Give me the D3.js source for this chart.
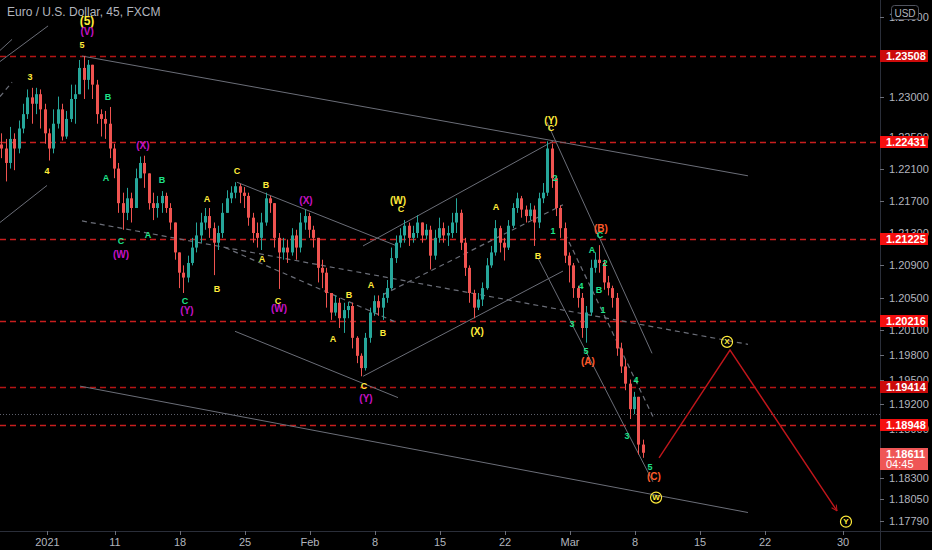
<!DOCTYPE html>
<html>
<head>
<meta charset="utf-8">
<title>Euro / U.S. Dollar, 45, FXCM</title>
<script src="https://cdn.jsdelivr.net/npm/d3@7"></script>
<style>
	body {
		margin: 0;
		background: #000;
	}
	svg {
		display: block;
		font-family: "Liberation Sans", Arial, sans-serif;
	}
	.axis_label {
		fill: #b2b5be;
		font-size: 11px;
	}
	.wave {
		font-size: 9px;
		font-weight: bold;
		text-anchor: middle;
		dominant-baseline: central;
	}
	.level_label {
		fill: white;
		font-size: 11px;
		font-weight: bold;
		dominant-baseline: central;
	}
</style>
</head>
<body>
<svg id="chart"></svg>
<script>

	// 45 minute candles, grouped three per trading day (day 0 = Mon 4 Jan 2021)
	var firstBarDay = -3.75,
		firstOpen = 1.2240;

	var closes = [1.2235, 1.2217, 1.2247, 1.2235, 1.2260, 1.2278, 1.2299, 1.2291, 1.2303, 1.2284,
		1.2254, 1.2235, 1.2266, 1.2284, 1.2250, 1.2272, 1.2297, 1.2303, 1.2336, 1.2321,
		1.2340, 1.2315, 1.2278, 1.2272, 1.2266, 1.2235, 1.2210, 1.2167, 1.2155, 1.2173,
		1.2161, 1.2198, 1.2217, 1.2204, 1.2167, 1.2161, 1.2167, 1.2176, 1.2161, 1.2143,
		1.2106, 1.2081, 1.2075, 1.2093, 1.2112, 1.2127, 1.2143, 1.2151, 1.2136, 1.2118,
		1.2130, 1.2155, 1.2173, 1.2180, 1.2188, 1.2180, 1.2176, 1.2149, 1.2130, 1.2124,
		1.2143, 1.2173, 1.2167, 1.2124, 1.2106, 1.2112, 1.2106, 1.2127, 1.2112, 1.2143,
		1.2151, 1.2134, 1.2124, 1.2087, 1.2081, 1.2056, 1.2032, 1.2044, 1.2025, 1.2035,
		1.2040, 1.2001, 1.1979, 1.1964, 1.2001, 1.2032, 1.2046, 1.2038, 1.2050, 1.2062,
		1.2099, 1.2118, 1.2127, 1.2139, 1.2124, 1.2130, 1.2143, 1.2127, 1.2134, 1.2102,
		1.2124, 1.2136, 1.2127, 1.2130, 1.2143, 1.2155, 1.2118, 1.2087, 1.2056, 1.2038,
		1.2048, 1.2062, 1.2090, 1.2106, 1.2136, 1.2118, 1.2112, 1.2139, 1.2161, 1.2173,
		1.2159, 1.2151, 1.2159, 1.2143, 1.2173, 1.2180, 1.2235, 1.2198, 1.2161, 1.2136,
		1.2102, 1.2090, 1.2062, 1.2050, 1.2013, 1.2032, 1.2087, 1.2097, 1.2093, 1.2069,
		1.2062, 1.2050, 1.1988, 1.1966, 1.1945, 1.1914, 1.1929, 1.1871, 1.18611];

	var highs = [1.2254, 1.2247, 1.2262, 1.2254, 1.2270, 1.2291, 1.2309, 1.2311, 1.2311, 1.2309,
		1.2291, 1.2260, 1.2284, 1.2300, 1.2291, 1.2282, 1.2315, 1.2315, 1.2346, 1.2351,
		1.2346, 1.2340, 1.2321, 1.2284, 1.2282, 1.2287, 1.2241, 1.2217, 1.2180, 1.2186,
		1.2180, 1.2210, 1.2225, 1.2226, 1.2204, 1.2180, 1.2176, 1.2182, 1.2180, 1.2167,
		1.2143, 1.2106, 1.2090, 1.2102, 1.2124, 1.2143, 1.2155, 1.2161, 1.2161, 1.2143,
		1.2139, 1.2167, 1.2183, 1.2188, 1.2193, 1.2191, 1.2187, 1.2180, 1.2155, 1.2143,
		1.2155, 1.2180, 1.2176, 1.2167, 1.2130, 1.2124, 1.2122, 1.2136, 1.2134, 1.2155,
		1.2159, 1.2155, 1.2139, 1.2124, 1.2097, 1.2087, 1.2056, 1.2053, 1.2050, 1.2044,
		1.2045, 1.2044, 1.2003, 1.1982, 1.2007, 1.2038, 1.2053, 1.2053, 1.2056, 1.2072,
		1.2112, 1.2127, 1.2136, 1.2146, 1.2143, 1.2139, 1.2152, 1.2143, 1.2141, 1.2139,
		1.2134, 1.2149, 1.2143, 1.2139, 1.2155, 1.2173, 1.2159, 1.2124, 1.2090, 1.2060,
		1.2056, 1.2069, 1.2099, 1.2114, 1.2146, 1.2139, 1.2124, 1.2146, 1.2167, 1.2180,
		1.2176, 1.2164, 1.2167, 1.2164, 1.2180, 1.2192, 1.2244, 1.2241, 1.2201, 1.2164,
		1.2143, 1.2106, 1.2093, 1.2065, 1.2056, 1.2040, 1.2097, 1.2106, 1.2115, 1.2097,
		1.2077, 1.2065, 1.2056, 1.1995, 1.1974, 1.1950, 1.1935, 1.1929, 1.1877];

	var lows = [1.2223, 1.2194, 1.2210, 1.2208, 1.2229, 1.2254, 1.2272, 1.2266, 1.2278, 1.2260,
		1.2241, 1.2220, 1.2229, 1.2260, 1.2245, 1.2247, 1.2268, 1.2266, 1.2303, 1.2297,
		1.2309, 1.2297, 1.2266, 1.2250, 1.2247, 1.2223, 1.2198, 1.2155, 1.2134, 1.2146,
		1.2143, 1.2161, 1.2198, 1.2186, 1.2159, 1.2146, 1.2149, 1.2155, 1.2155, 1.2134,
		1.2097, 1.2062, 1.2056, 1.2069, 1.2090, 1.2106, 1.2118, 1.2134, 1.2124, 1.2078,
		1.2109, 1.2124, 1.2155, 1.2167, 1.2173, 1.2167, 1.2161, 1.2139, 1.2118, 1.2112,
		1.2109, 1.2139, 1.2155, 1.2112, 1.2061, 1.2097, 1.2093, 1.2102, 1.2097, 1.2106,
		1.2134, 1.2124, 1.2112, 1.2069, 1.2062, 1.2038, 1.2023, 1.2028, 1.2013, 1.2007,
		1.2025, 1.1988, 1.1970, 1.1954, 1.1961, 1.1995, 1.2028, 1.2028, 1.2023, 1.2044,
		1.2060, 1.2093, 1.2112, 1.2118, 1.2114, 1.2118, 1.2124, 1.2118, 1.2122, 1.2085,
		1.2097, 1.2118, 1.2118, 1.2114, 1.2124, 1.2130, 1.2109, 1.2077, 1.2044, 1.2025,
		1.2035, 1.2040, 1.2060, 1.2087, 1.2102, 1.2106, 1.2096, 1.2109, 1.2136, 1.2155,
		1.2149, 1.2143, 1.2146, 1.2114, 1.2136, 1.2167, 1.2176, 1.2186, 1.2151, 1.2124,
		1.2093, 1.2069, 1.2050, 1.2038, 1.2001, 1.1995, 1.2028, 1.2081, 1.2081, 1.2060,
		1.2053, 1.2038, 1.1979, 1.1958, 1.1937, 1.1902, 1.1908, 1.1859, 1.1855];

	var lastPrice = 1.18611,
		countdown = "04:45";

	// horizontal levels drawn on the chart
	var levels = [1.23508, 1.22431, 1.21225, 1.20216, 1.19414, 1.18948];
	var levelStrong = [true, false, false, false, true, false];
	var prevClose = 1.1908;

	var priceTicks = [1.24, 1.23, 1.225, 1.221, 1.217, 1.213, 1.209, 1.205, 1.201, 1.198,
		1.195, 1.192, 1.189, 1.183, 1.1805, 1.1779];
	var dayTicks = [-0.2, 5, 10, 15, 20, 25, 30, 35, 40, 45, 50, 55, 61];
	var dayLabels = ["2021", "11", "18", "25", "Feb", "8", "15", "22", "Mar", "8", "15", "22", "30"];

	// trend lines: [day1, price1, day2, price2]
	var solidLines = [
		[2.46, 1.2351, 53.69, 1.2201],
		[2.31, 1.1942, 53.69, 1.1789],
		[14.38, 1.2193, 26.54, 1.2115],
		[24.08, 1.2114, 38.69, 1.2244],
		[24.08, 1.1954, 39.46, 1.2083],
		[38.23, 1.2268, 46.31, 1.1982],
		[37.54, 1.2099, 46.38, 1.1826],
		[14.23, 1.2009, 26.77, 1.1928],
		[-3.85, 1.2344, -0.15, 1.2389],
		[-3.85, 1.2358, -2.92, 1.2372],
		[-3.85, 1.2143, -0.23, 1.2189]
	];
	var dashedLines = [
		[2.46, 1.2145, 53.69, 1.1993],
		[13.46, 1.2112, 26.77, 1.2019],
		[25.62, 1.2054, 39.46, 1.2165],
		[39.62, 1.2129, 46.38, 1.1905],
		[-3.85, 1.2300, -2.92, 1.2318]
	];

	// projected path (W) -> (X) -> (Y)
	var projection = [[46.85, 1.1855], [52.31, 1.1986], [60.54, 1.1791]];
	var circled = [[52.08, 1.1996, "X"], [46.62, 1.1807, "W"], [61.23, 1.1778, "Y"]];

	// wave labels: [day, price, text, degree]
	var waveLabels = [
		[2.85, 1.2395, "(5)", "cycle"],
		[2.85, 1.2382, "(V)", "minor"],
		[2.46, 1.2365, "5", "minute"],
		[-1.54, 1.2325, "3", "minute"],
		[-0.23, 1.2207, "4", "minute"],
		[4.46, 1.2300, "B", "minuette"],
		[4.31, 1.2198, "A", "minuette"],
		[5.46, 1.2120, "C", "minuette"],
		[5.46, 1.2104, "(W)", "minor"],
		[7.15, 1.2239, "(X)", "minor"],
		[7.54, 1.2127, "A", "minuette"],
		[8.62, 1.2196, "B", "minuette"],
		[10.38, 1.2046, "C", "minuette"],
		[10.54, 1.2034, "(Y)", "minor"],
		[12.08, 1.2172, "A", "minute"],
		[12.85, 1.2061, "B", "minute"],
		[14.38, 1.2207, "C", "minute"],
		[16.31, 1.2098, "A", "minute"],
		[16.62, 1.2189, "B", "minute"],
		[17.54, 1.2046, "C", "minute"],
		[17.62, 1.2037, "(W)", "minor"],
		[19.69, 1.2170, "(X)", "minor"],
		[21.77, 1.2000, "A", "minute"],
		[23.0, 1.2054, "B", "minute"],
		[24.15, 1.1942, "C", "minute"],
		[24.31, 1.1927, "(Y)", "minor"],
		[24.69, 1.2066, "A", "minute"],
		[25.62, 1.2007, "B", "minute"],
		[26.77, 1.2170, "(W)", "minute"],
		[27.0, 1.2160, "C", "minute"],
		[32.85, 1.2009, "(X)", "minute"],
		[34.31, 1.2162, "A", "minute"],
		[37.54, 1.2101, "B", "minute"],
		[38.54, 1.2270, "(Y)", "minute"],
		[38.54, 1.2261, "C", "minute"],
		[38.85, 1.2198, "2", "minuette"],
		[38.69, 1.2133, "1", "minuette"],
		[40.15, 1.2018, "3", "minuette"],
		[40.85, 1.2064, "4", "minuette"],
		[41.23, 1.1985, "5", "minuette"],
		[41.38, 1.1972, "(A)", "intermediate"],
		[41.69, 1.2109, "A", "minuette"],
		[42.31, 1.2128, "C", "minuette"],
		[42.38, 1.2136, "(B)", "intermediate"],
		[42.69, 1.2093, "2", "minuette"],
		[42.23, 1.2060, "B", "minuette"],
		[42.54, 1.2035, "1", "minuette"],
		[45.08, 1.1949, "4", "minuette"],
		[44.38, 1.1881, "3", "minuette"],
		[46.15, 1.1844, "5", "minuette"],
		[46.46, 1.1832, "(C)", "intermediate"]
	];

	var degreeColor = {
		cycle: "#ffeb3b",
		minute: "#ffeb3b",
		minuette: "#1de38a",
		minor: "#c512c5",
		intermediate: "#ff5a2a"
	};

	var width = 932, height = 550,
		plotRight = 880, plotBottom = 531;

	var x = d3.scaleLinear().domain([0, 61]).range([50, 843]);
	var y = d3.scaleLog().domain([1.17668, 1.24218]).range([plotBottom, 0]);

	var bars = closes.map(function(c, i) {
		return {
			day: firstBarDay + i / 3,
			open: i == 0 ? firstOpen : closes[i - 1],
			close: c,
			high: highs[i],
			low: lows[i]
		};
	});

	var svg = d3.select("svg#chart")
		.attr("width", width)
		.attr("height", height);

	svg.append("rect")
		.attr("width", width)
		.attr("height", height)
		.attr("fill", "#000");

	svg.append("clipPath").attr("id", "plotclip")
		.append("rect")
			.attr("width", plotRight)
			.attr("height", plotBottom);

	var plot = svg.append("g").attr("clip-path", "url(#plotclip)");

	// levels
	plot.selectAll("line.level")
		.data(levels).enter().append("line")
			.attr("x1", 0)
			.attr("x2", plotRight)
			.attr("y1", d => Math.round(y(d)) + 0.5)
			.attr("y2", d => Math.round(y(d)) + 0.5)
			.attr("stroke", (d, i) => levelStrong[i] ? "#b51414" : "#c81e1e")
			.attr("stroke-width", 1.5)
			.attr("stroke-dasharray", "6,4");

	plot.append("line")
		.attr("x1", 0).attr("x2", plotRight)
		.attr("y1", Math.round(y(prevClose)) + 0.5)
		.attr("y2", Math.round(y(prevClose)) + 0.5)
		.attr("stroke", "#5d606b")
		.attr("stroke-dasharray", "1,2");

	// trend lines
	plot.selectAll("line.trend")
		.data(solidLines).enter().append("line")
			.attr("x1", d => x(d[0])).attr("y1", d => y(d[1]))
			.attr("x2", d => x(d[2])).attr("y2", d => y(d[3]))
			.attr("stroke", "#6b6e78")
			.attr("stroke-width", 1);

	plot.selectAll("line.dashtrend")
		.data(dashedLines).enter().append("line")
			.attr("x1", d => x(d[0])).attr("y1", d => y(d[1]))
			.attr("x2", d => x(d[2])).attr("y2", d => y(d[3]))
			.attr("stroke", "#6b6e78")
			.attr("stroke-width", 1.2)
			.attr("stroke-dasharray", "5,4");

	// candles
	var candle = plot.selectAll("g.candle")
		.data(bars).enter().append("g");

	candle.append("line")
		.attr("x1", d => Math.round(x(d.day)) + 0.5)
		.attr("x2", d => Math.round(x(d.day)) + 0.5)
		.attr("y1", d => y(d.high))
		.attr("y2", d => y(d.low))
		.attr("stroke", d => d.close >= d.open ? "#26a69a" : "#ef5350");

	candle.append("rect")
		.attr("x", d => Math.round(x(d.day)) - 1)
		.attr("width", 3)
		.attr("y", d => y(Math.max(d.open, d.close)))
		.attr("height", d => Math.max(1, Math.abs(y(d.open) - y(d.close))))
		.attr("fill", d => d.close >= d.open ? "#26a69a" : "#ef5350");

	// projection arrow
	svg.append("defs").append("marker")
		.attr("id", "arrow")
		.attr("viewBox", "0 0 10 10")
		.attr("refX", 9).attr("refY", 5)
		.attr("markerWidth", 7).attr("markerHeight", 7)
		.attr("markerUnits", "userSpaceOnUse")
		.attr("orient", "auto")
		.append("path")
			.attr("d", "M1,1 L9,5 L1,9")
			.attr("fill", "none")
			.attr("stroke", "#c0161b")
			.attr("stroke-width", 1.4);

	plot.append("path")
		.datum(projection)
		.attr("d", d3.line().x(d => x(d[0])).y(d => y(d[1])))
		.attr("fill", "none")
		.attr("stroke", "#c0161b")
		.attr("stroke-width", 1.4)
		.attr("marker-end", "url(#arrow)");

	// circled labels
	var circ = plot.selectAll("g.circ")
		.data(circled).enter().append("g")
			.attr("transform", d => "translate(" + x(d[0]) + "," + y(d[1]) + ")");
	circ.append("circle")
		.attr("r", 5.5)
		.attr("fill", "none")
		.attr("stroke", "#ffeb3b")
		.attr("stroke-width", 1.2);
	circ.append("text")
		.attr("class", "wave")
		.attr("fill", "#ffeb3b")
		.style("font-size", "8px")
		.text(d => d[2]);

	// wave labels
	plot.selectAll("text.wavelabel")
		.data(waveLabels).enter().append("text")
			.attr("class", "wave")
			.attr("x", d => x(d[0]))
			.attr("y", d => y(d[1]))
			.attr("fill", d => degreeColor[d[3]])
			.style("font-size", d => d[3] == "cycle" ? "12px" : (d[2].length > 1 ? "10px" : "9px"))
			.text(d => d[2]);

	// title
	svg.append("text")
		.attr("x", 7).attr("y", 16)
		.attr("fill", "#b2b5be")
		.style("font-size", "12px")
		.text("Euro / U.S. Dollar, 45, FXCM");

	// axes frame
	svg.append("line")
		.attr("x1", plotRight + 0.5).attr("x2", plotRight + 0.5)
		.attr("y1", 0).attr("y2", height)
		.attr("stroke", "#2a2e39");
	svg.append("line")
		.attr("x1", 0).attr("x2", width)
		.attr("y1", plotBottom + 0.5).attr("y2", plotBottom + 0.5)
		.attr("stroke", "#2a2e39");

	// price axis
	var yAxis = svg.append("g");
	yAxis.selectAll("line")
		.data(priceTicks).enter().append("line")
			.attr("x1", plotRight).attr("x2", plotRight + 4)
			.attr("y1", d => Math.round(y(d)) + 0.5)
			.attr("y2", d => Math.round(y(d)) + 0.5)
			.attr("stroke", "#6b6e78");
	yAxis.selectAll("text")
		.data(priceTicks).enter().append("text")
			.attr("class", "axis_label")
			.attr("x", plotRight + 9)
			.attr("y", d => y(d))
			.attr("dominant-baseline", "central")
			.text(d => d3.format(".5f")(d));

	// time axis
	var xAxis = svg.append("g");
	xAxis.selectAll("line")
		.data(dayTicks).enter().append("line")
			.attr("x1", d => Math.round(x(d)) + 0.5)
			.attr("x2", d => Math.round(x(d)) + 0.5)
			.attr("y1", plotBottom).attr("y2", plotBottom + 4)
			.attr("stroke", "#6b6e78");
	xAxis.selectAll("text")
		.data(dayTicks).enter().append("text")
			.attr("class", "axis_label")
			.attr("x", d => x(d))
			.attr("y", plotBottom + 11)
			.attr("text-anchor", "middle")
			.attr("dominant-baseline", "central")
			.text((d, i) => dayLabels[i]);

	// level price boxes
	var boxes = svg.selectAll("g.levelbox")
		.data(levels).enter().append("g")
			.attr("transform", d => "translate(" + plotRight + "," + Math.round(y(d)) + ")");
	boxes.append("rect")
		.attr("y", -6).attr("width", 48).attr("height", 12)
		.attr("fill", (d, i) => levelStrong[i] ? "#cc0a0a" : "#f50f0f");
	boxes.append("text")
		.attr("class", "level_label")
		.attr("x", 6)
		.text(d => d3.format(".5f")(d));

	// last price box
	var last = svg.append("g")
		.attr("transform", "translate(" + plotRight + "," + Math.round(y(lastPrice)) + ")");
	last.append("rect")
		.attr("y", -5).attr("width", 48).attr("height", 22)
		.attr("fill", "#ef5656");
	last.append("text")
		.attr("class", "level_label")
		.attr("x", 6).attr("y", 1)
		.text(d3.format(".5f")(lastPrice));
	last.append("text")
		.attr("class", "level_label")
		.style("font-weight", "normal")
		.attr("x", 6).attr("y", 11)
		.text(countdown);

	// currency badge
	svg.append("rect")
		.attr("x", 891.5).attr("y", 5.5)
		.attr("width", 27).attr("height", 14)
		.attr("rx", 3)
		.attr("fill", "#000")
		.attr("stroke", "#50535e");
	svg.append("text")
		.attr("x", 905).attr("y", 13)
		.attr("text-anchor", "middle")
		.attr("dominant-baseline", "central")
		.attr("fill", "#b2b5be")
		.style("font-size", "10px")
		.text("USD");

</script>
</body>
</html>
